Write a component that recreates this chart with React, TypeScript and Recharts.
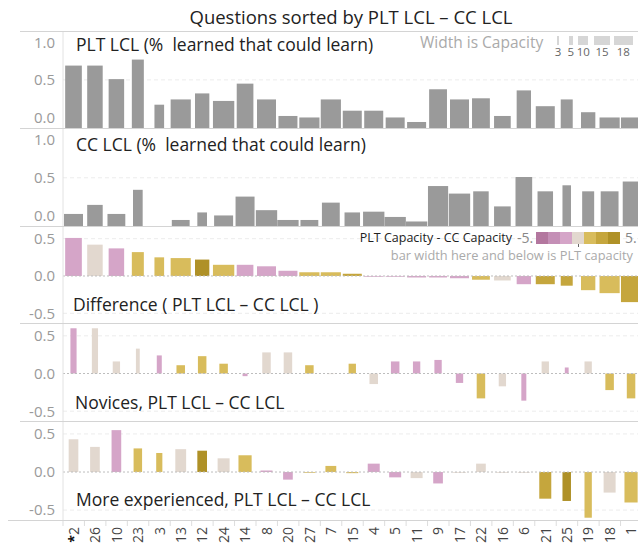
import {Bar, BarChart, CartesianGrid, ReferenceLine, XAxis, YAxis} from 'recharts';

// question order (sorted by PLT LCL - CC LCL)
const questions = ['2', '26', '10', '23', '3', '13', '12', '24', '14', '8', '20', '27', '7', '15', '4', '5', '11', '9', '17', '22', '16', '6', '21', '25', '19', '18', '1'];
const starred = '2';

const pltLcl = [0.69, 0.69, 0.51, 0.77, 0.17, 0.24, 0.32, 0.22, 0.45, 0.24, 0.02, 0.0, 0.24, 0.09, 0.09, 0.0, -0.06, 0.375, 0.24, 0.255, 0.02, 0.36, 0.15, 0.24, 0.07, 0.0, 0.0];
const ccLcl = [0.02, 0.14, 0.02, 0.34, null, -0.06, 0.04, 0.0, 0.25, 0.07, -0.06, -0.06, 0.17, 0.04, 0.05, -0.02, -0.08, 0.39, 0.29, 0.32, 0.12, 0.51, 0.32, 0.4, 0.32, 0.32, 0.45];
const pltCap = [16, 15, 15, 12, 10, 19, 14, 20, 16, 18, 18, 19, 19, 18, 18, 18, 18, 17, 18, 17, 16, 14, 18, 12, 14, 19, 19];
const ccCap = [18, 15, 17, 10, 8, 17, 10, 18, 18, 20, 20, 17, 17, 15, 20, 20, 20, 19, 20, 15, 16, 16, 15, 9, 12, 17, 16];

const diffLcl = [0.51, 0.42, 0.37, 0.32, 0.25, 0.24, 0.22, 0.15, 0.15, 0.13, 0.07, 0.05, 0.05, 0.03, -0.01, -0.01, -0.02, -0.02, -0.03, -0.05, -0.06, -0.11, -0.11, -0.13, -0.19, -0.23, -0.35];

const novLcl = [0.6, 0.6, 0.16, 0.33, 0.24, 0.11, 0.23, 0.13, -0.035, 0.28, 0.28, 0.11, 0.0, 0.13, -0.14, 0.16, 0.16, 0.18, -0.125, -0.33, -0.17, -0.36, 0.16, 0.08, 0.16, -0.22, -0.33];
const novCap = [7, 7, 8, 5, 6, 9, 9, 9, 6, 9, 9, 9, 8, 8, 9, 9, 8, 8, 8, 9, 8, 6, 8, 5, 8, 9, 9];
const novCapDiff = [-2, 0, 0, 0, -2, 2, 2, 2, -2, 0, 0, 2, 0, 2, 0, -2, -2, -2, -2, 2, 0, -2, 0, -2, 0, 2, 2];

const expLcl = [0.43, 0.33, 0.55, 0.31, 0.25, 0.3, 0.28, 0.18, 0.22, 0.02, -0.1, -0.01, 0.08, -0.015, 0.11, -0.07, -0.08, -0.15, -0.01, 0.11, -0.01, -0.01, -0.35, -0.38, -0.6, -0.27, -0.4];
const expCap = [10, 10, 10, 9, 7, 11, 10, 12, 13, 12, 10, 12, 11, 12, 12, 12, 12, 10, 13, 10, 12, 12, 12, 9, 8, 12, 13];
const expCapDiff = [0, 0, -2, 2, 2, 0, 4, 0, 2, -2, -2, 2, 2, 2, -2, -2, 0, -2, 0, 0, 0, 0, 3, 4, 2, 0, 2];

const widthLegendCaps = [3, 5, 10, 15, 18];
const diffSwatches = ['#b3779f', '#c48fb6', '#d5a5c8', '#e2d8cf', '#d8bc5c', '#c5a63d', '#af9127'];

const FONT = '"Open Sans", sans-serif';
const CHART_W = 642;
const AXIS_W = 63;
const SLOT = (CHART_W - AXIS_W) / questions.length;

// capacity -> bar width in px
const capWidth = (c: number) => Math.max(1, ((c - 3) * (19 - 1.5)) / 15 + 1.5);

const diffColor = (d: number) => {
  if (d <= -4) return diffSwatches[0];
  if (d <= -3) return diffSwatches[1];
  if (d < 0) return diffSwatches[2];
  if (d === 0) return diffSwatches[3];
  if (d < 3) return diffSwatches[4];
  if (d < 4) return diffSwatches[5];
  return diffSwatches[6];
};

interface Row {
  q: string;
  v: number | null;
  cap: number;
  diff: number;
}

const makeRows = (vals: (number | null)[], caps: number[], diffs: number[]): Row[] =>
  questions.map((q, i) => ({q, v: vals[i], cap: caps[i], diff: diffs[i]}));

const capDiff = pltCap.map((c, i) => c - ccCap[i]);

const makeShape = (gray: boolean) => (props: any) => {
  const {x, y, width, height, payload} = props;
  if (payload == null || payload.v == null || x == null) return <g />;
  const w = capWidth(payload.cap);
  let yy = y;
  let hh = height;
  if (hh < 0) {
    yy += hh;
    hh = -hh;
  }
  return (
    <rect
      x={x + width / 2 - w / 2}
      y={yy}
      width={w}
      height={Math.max(hh, 0.6)}
      fill={gray ? '#9a9a9a' : diffColor(payload.diff)}
    />
  );
};

const QTick = (props: any) => {
  const {x, y, payload} = props;
  const label = payload.value;
  return (
    <g transform={`translate(${x},${y})`}>
      <line x1={-SLOT / 2} x2={-SLOT / 2} y1={0} y2={6} stroke="#ddd" />
      <text transform="rotate(-90)" x={-7} y={5} textAnchor="end" fontSize={14} fill="#444" fontFamily={FONT}>
        {label === starred && <tspan fill="#111" fontWeight={700}>*</tspan>}
        {label}
      </text>
    </g>
  );
};

interface PanelProps {
  top: number;
  height: number;
  rows: Row[];
  domain: [number, number];
  ticks: number[];
  grid: number[];
  ranged?: boolean;
  gray?: boolean;
  showX?: boolean;
}

function Panel({top, height, rows, domain, ticks, grid, ranged, gray, showX}: PanelProps) {
  const xH = showX ? 28 : 0;
  return (
    <div style={{position: 'absolute', left: 0, top}}>
      <BarChart
        width={CHART_W}
        height={height + xH}
        data={rows}
        margin={{top: 0, right: 0, bottom: 0, left: 0}}
        barCategoryGap={0}
        barGap={0}
      >
        <CartesianGrid vertical={false} horizontalValues={grid} stroke="#ececec" strokeDasharray="4 3" />
        <XAxis
          dataKey="q"
          hide={!showX}
          interval={0}
          axisLine={false}
          tickLine={false}
          tickSize={0}
          tickMargin={0}
          height={xH}
          tick={(p: any) => <QTick {...p} />}
        />
        <YAxis
          type="number"
          domain={domain}
          ticks={ticks}
          allowDataOverflow
          width={AXIS_W}
          tickLine={false}
          axisLine={{stroke: '#e2e2e2'}}
          tick={{fill: '#9a9a9a', fontSize: 15, fontFamily: FONT}}
          tickFormatter={(t: number) => t.toFixed(1)}
        />
        {!ranged && <ReferenceLine y={0} stroke="#bdbdbd" strokeDasharray="2 2" />}
        <Bar
          dataKey={ranged ? (d: Row) => (d.v == null ? null : [domain[0], d.v]) : 'v'}
          isAnimationActive={false}
          shape={makeShape(!!gray)}
        />
      </BarChart>
    </div>
  );
}

const hLine = (y: number, x0: number) => (
  <div key={y} style={{position: 'absolute', left: x0, top: y, width: 640 - x0, height: 1, background: '#d4d4d4'}} />
);

const text = (s: string, style: any) => (
  <div style={{position: 'absolute', whiteSpace: 'pre', lineHeight: '20px', ...style}}>{s}</div>
);

export default function App() {
  const lclDomain: [number, number] = [-0.14, 1.15];
  const ccDomain: [number, number] = [-0.14, 1.16];
  const diffDomain: [number, number] = [-0.63, 0.67];
  const lclTicks = [0, 0.5, 1];
  const diffTicks = [-0.5, 0, 0.5];

  return (
    <div
      style={{
        position: 'absolute',
        left: 0,
        top: 0,
        width: 638,
        height: 548,
        overflow: 'hidden',
        background: '#fff',
        fontFamily: FONT,
      }}
    >
      <Panel top={31} height={97} rows={makeRows(pltLcl, pltCap, capDiff)} domain={lclDomain} ticks={lclTicks} grid={[0.5]} ranged gray />
      <Panel top={128} height={98} rows={makeRows(ccLcl, ccCap, capDiff)} domain={ccDomain} ticks={lclTicks} grid={[0.5]} ranged gray />
      <Panel top={226} height={97} rows={makeRows(diffLcl, pltCap, capDiff)} domain={diffDomain} ticks={diffTicks} grid={[-0.5, 0.5]} />
      <Panel top={323} height={98} rows={makeRows(novLcl, novCap, novCapDiff)} domain={diffDomain} ticks={diffTicks} grid={[-0.5, 0.5]} />
      <Panel top={421} height={99} rows={makeRows(expLcl, expCap, expCapDiff)} domain={diffDomain} ticks={diffTicks} grid={[-0.5, 0.5]} showX />

      {hLine(31, 20)}
      {hLine(128, 20)}
      {hLine(226, 20)}
      {hLine(323, 20)}
      {hLine(421, 20)}
      {hLine(520, 8)}

      {text('Questions sorted by PLT LCL – CC LCL', {left: 64, width: 574, textAlign: 'center', top: 7, fontSize: 18.5, color: '#222'})}

      {text('PLT LCL (%  learned that could learn)', {left: 76, top: 34, fontSize: 17.5, color: '#222'})}
      {text('CC LCL (%  learned that could learn)', {left: 76, top: 134, fontSize: 17.5, color: '#222'})}
      {text('Difference ( PLT LCL – CC LCL )', {left: 73, top: 294, fontSize: 17.5, color: '#222'})}
      {text('Novices, PLT LCL – CC LCL', {left: 75, top: 392, fontSize: 17.5, color: '#222'})}
      {text('More experienced, PLT LCL – CC LCL', {left: 76, top: 489, fontSize: 17.5, color: '#222'})}

      {/* width legend */}
      {text('Width is Capacity', {left: 420, top: 32, fontSize: 15.5, color: '#aaa'})}
      {widthLegendCaps.map((c, i) => {
        const centers = [558, 570.7, 583.3, 602, 623.3];
        const w = capWidth(c);
        return (
          <div key={c}>
            <div style={{position: 'absolute', left: centers[i] - w / 2, top: 36, width: w, height: 9, background: '#d6d6d6'}} />
            {text(String(c), {left: centers[i] - 15, width: 30, textAlign: 'center', top: 42, fontSize: 11.5, color: '#666'})}
          </div>
        );
      })}

      {/* colour legend */}
      {text('PLT Capacity - CC Capacity', {right: 126, top: 228, fontSize: 12.5, fontWeight: 500, color: '#222'})}
      {text('-5.', {left: 517, top: 228, fontSize: 14, color: '#888'})}
      {diffSwatches.map((c, i) => (
        <div key={c} style={{position: 'absolute', left: 536 + i * 12, top: 232, width: 12, height: 12, background: c}} />
      ))}
      <div style={{position: 'absolute', left: 577.5, top: 244, width: 1, height: 3, background: '#666'}} />
      {text('5.', {left: 625, top: 228, fontSize: 14, color: '#888'})}
      {text('bar width here and below is PLT capacity', {right: 5, top: 245, fontSize: 12.8, color: '#aaa'})}
    </div>
  );
}
